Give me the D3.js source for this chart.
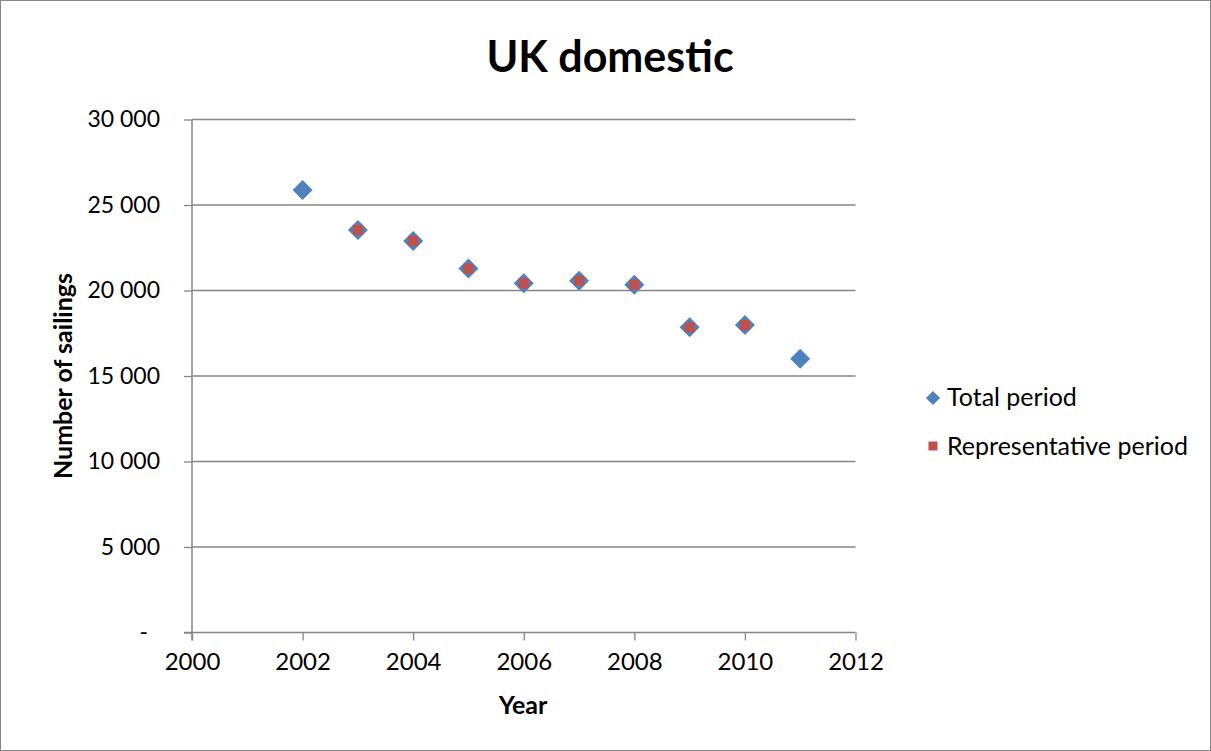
<!DOCTYPE html>
<html>
<head>
<meta charset="utf-8">
<script src="https://cdn.jsdelivr.net/npm/d3@7"></script>
<style>
  html, body { margin: 0; padding: 0; background: #fff; }
  svg { display: block; font-family: Lato, "Open Sans", sans-serif; }
</style>
</head>
<body>
<svg id="chart" width="1211" height="751"></svg>
<script>
// ---- data ----
const title = "UK domestic";
const xTitle = "Year";
const yTitle = "Number of sailings";
const totalYears = [2002, 2003, 2004, 2005, 2006, 2007, 2008, 2009, 2010, 2011];
const totalValues = [25880, 23540, 22900, 21280, 20420, 20570, 20340, 17850, 17980, 16010];
const reprYears = [2003, 2004, 2005, 2006, 2007, 2008, 2009, 2010];
const reprValues = [23540, 22900, 21280, 20420, 20570, 20340, 17850, 17980];
const xTicks = [2000, 2002, 2004, 2006, 2008, 2010, 2012];
const yTicks = [0, 5000, 10000, 15000, 20000, 25000, 30000];
const seriesNames = ["Total period", "Representative period"];
const seriesColors = ["#4F81BD", "#C0504D"];

// ---- layout ----
const svg = d3.select("#chart");
const W = 1211, H = 751;
const plot = { left: 192, right: 855.5, top: 119.5, bottom: 632.5 };
const gridColor = "#868686";

svg.append("rect")
  .attr("x", 0.5).attr("y", 0.5)
  .attr("width", W - 1).attr("height", H - 1)
  .attr("fill", "#fff").attr("stroke", "#868686").attr("stroke-width", 1);

const x = d3.scaleLinear().domain([2000, 2012]).range([plot.left, plot.right]);
const y = d3.scaleLinear().domain([0, 30000]).range([plot.bottom, plot.top]);

// gridlines
svg.append("g")
  .selectAll("line")
  .data(yTicks.filter(d => d !== 0))
  .join("line")
  .attr("x1", plot.left).attr("x2", plot.right)
  .attr("y1", d => y(d)).attr("y2", d => y(d))
  .attr("stroke", gridColor).attr("stroke-width", 1.3);

// y axis
const fmt = v => v === 0 ? "-" : d3.format(",")(v).replace(/,/g, " ");
const yAxis = svg.append("g")
  .attr("transform", `translate(${plot.left},0)`)
  .call(d3.axisLeft(y).tickValues(yTicks).tickFormat(fmt).tickSize(8).tickPadding(24));
yAxis.select(".domain").attr("stroke", gridColor).attr("stroke-width", 1.5).attr("d", `M0,${plot.top}V${plot.bottom + 8}`);
yAxis.selectAll(".tick line").attr("stroke", gridColor).attr("stroke-width", 1.3);
yAxis.selectAll("text").attr("font-size", 23).attr("fill", "#000").attr("font-family", "Lato")
  .attr("dx", d => d === 0 ? -12 : 0);

// x axis
const xAxis = svg.append("g")
  .attr("transform", `translate(0,${plot.bottom})`)
  .call(d3.axisBottom(x).tickValues(xTicks).tickFormat(d3.format("d")).tickSize(8).tickPadding(12));
xAxis.select(".domain").attr("stroke", gridColor).attr("stroke-width", 1.5).attr("d", `M${plot.left - 8},0H${plot.right}`);
xAxis.selectAll(".tick line").attr("stroke", gridColor).attr("stroke-width", 1.3);
xAxis.selectAll("text").attr("font-size", 24).attr("fill", "#000").attr("font-family", "Lato");

// title
svg.append("text")
  .attr("x", 610).attr("y", 72)
  .attr("text-anchor", "middle")
  .attr("font-size", 43).attr("font-weight", "bold")
  .text(title);

// axis titles
svg.append("text")
  .attr("x", 523).attr("y", 714)
  .attr("text-anchor", "middle")
  .attr("font-size", 25).attr("font-weight", "bold")
  .text(xTitle);
svg.append("text")
  .attr("transform", `translate(72,376) rotate(-90)`)
  .attr("text-anchor", "middle")
  .attr("font-size", 25).attr("font-weight", "bold")
  .text(yTitle);

// markers
const diamond = d3.symbol().type(d3.symbolSquare).size(200);
const total = totalYears.map((yr, i) => ({ x: yr, y: totalValues[i] }));
const repr = reprYears.map((yr, i) => ({ x: yr, y: reprValues[i] }));

svg.append("g").selectAll("path")
  .data(total)
  .join("path")
  .attr("d", diamond)
  .attr("transform", d => `translate(${x(d.x)},${y(d.y)}) rotate(45)`)
  .attr("fill", seriesColors[0]);

svg.append("g").selectAll("rect")
  .data(repr)
  .join("rect")
  .attr("x", d => x(d.x) - 5).attr("y", d => y(d.y) - 5)
  .attr("width", 10).attr("height", 10)
  .attr("fill", seriesColors[1]);

// legend
const lg = svg.append("g");
lg.append("path")
  .attr("d", d3.symbol().type(d3.symbolSquare).size(100))
  .attr("transform", "translate(933,398) rotate(45)")
  .attr("fill", seriesColors[0]);
lg.append("text").attr("x", 947).attr("y", 406).attr("font-size", 25).text(seriesNames[0]);
lg.append("rect")
  .attr("x", 928.5).attr("y", 441.5).attr("width", 9).attr("height", 9)
  .attr("fill", seriesColors[1]);
lg.append("text").attr("x", 947).attr("y", 455).attr("font-size", 25).text(seriesNames[1]);
</script>
</body>
</html>
